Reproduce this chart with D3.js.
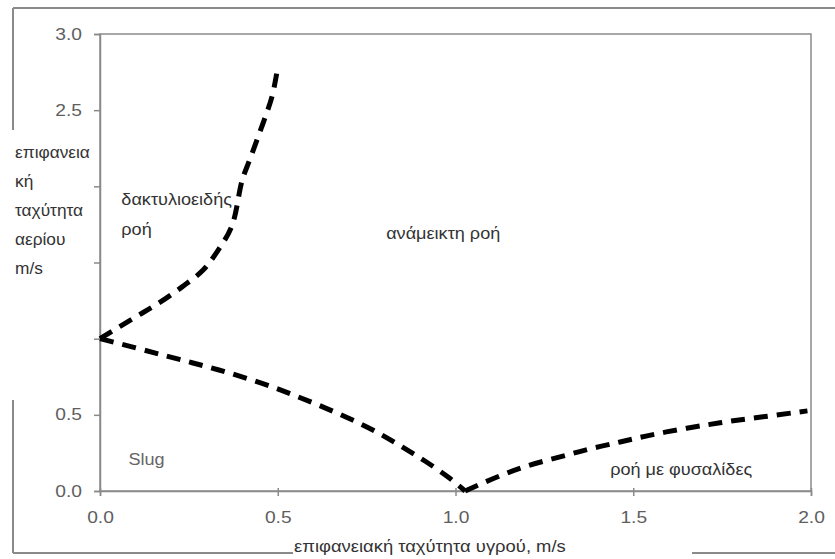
<!DOCTYPE html>
<html>
<head>
<meta charset="utf-8">
<script src="https://cdn.jsdelivr.net/npm/d3@7"></script>
<style>
  body { margin: 0; background: #fff; }
  svg { display: block; font-family: "Liberation Sans", Arial, sans-serif; }
  .axis path, .axis line { stroke: #8a8a8a; stroke-width: 1.5; }
  .axis text { fill: #5e5e5e; font-size: 16px; }
  .region { font-size: 16px; }
  .boundary { fill: none; stroke: #000; stroke-width: 5; stroke-dasharray: 14 9; }
</style>
</head>
<body>
<svg id="chart" width="835" height="559"></svg>
<script>
// liquid superficial velocity (x) vs gas superficial velocity (y)
const annularX = [0, 0.098, 0.163, 0.231, 0.29, 0.332, 0.371, 0.4, 0.422, 0.444, 0.464, 0.484, 0.5];
const annularY = [1.0, 1.14, 1.23, 1.34, 1.45, 1.58, 1.74, 2.04, 2.18, 2.32, 2.45, 2.59, 2.78];

const slugX = [0, 0.098, 0.183, 0.259, 0.332, 0.408, 0.484, 0.557, 0.633, 0.709, 0.782, 0.85, 0.914, 0.979, 1.027];
const slugY = [1.0, 0.941, 0.888, 0.842, 0.796, 0.743, 0.684, 0.618, 0.546, 0.467, 0.382, 0.289, 0.197, 0.092, 0];

const bubbleX = [1.027, 1.117, 1.201, 1.294, 1.378, 1.463, 1.539, 1.623, 1.707, 1.781, 1.865, 1.949, 1.99];
const bubbleY = [0, 0.092, 0.164, 0.224, 0.276, 0.322, 0.362, 0.401, 0.434, 0.461, 0.487, 0.513, 0.526];

const xTicks = [0, 0.5, 1, 1.5, 2];
const xTickLabels = ["0.0", "0.5", "1.0", "1.5", "2.0"];
const yTicks = [0, 0.5, 1, 1.5, 2, 2.5, 3];
const yTickLabels = ["0.0", "0.5", "", "", "", "2.5", "3.0"];

const yTitleLines = ["επιφανεια", "κή", "ταχύτητα", "αερίου", "m/s"];
const xTitle = "επιφανειακή ταχύτητα υγρού, m/s";

const regionNames = ["δακτυλιοειδής", "ροή", "ανάμεικτη ροή", "Slug", "ροή με φυσαλίδες"];
const regionX = [0.06, 0.06, 0.805, 0.08, 1.435];
const regionY = [1.915, 1.72, 1.69, 0.21, 0.14];

const svg = d3.select("#chart");
const margin = { top: 34, right: 24, bottom: 68, left: 100 };
const width = +svg.attr("width");
const height = +svg.attr("height");
const innerWidth = width - margin.left - margin.right;
const innerHeight = height - margin.top - margin.bottom;

// the picture's lettering is a little wider than Arial
const stretch = (sel, k) => sel.each(function () {
  const w = this.getComputedTextLength();
  if (w > 0) d3.select(this).attr("textLength", w * k).attr("lengthAdjust", "spacingAndGlyphs");
});

const x = d3.scaleLinear().domain([0, 2]).range([0, innerWidth]);
const y = d3.scaleLinear().domain([0, 3]).range([innerHeight, 0]);

// outer frame (broken where the axis titles sit)
const frame = svg.append("g").attr("stroke", "#8a8a8a").attr("stroke-width", 2);
[[13, 8, 835, 8], [13, 8, 13, 130], [13, 400, 13, 553], [13, 553, 293, 553], [692, 553, 835, 553]]
  .forEach(([x1, y1, x2, y2]) => {
    frame.append("line").attr("x1", x1).attr("y1", y1).attr("x2", x2).attr("y2", y2);
  });

const g = svg.append("g").attr("transform", `translate(${margin.left},${margin.top})`);

g.append("rect")
  .attr("width", innerWidth)
  .attr("height", innerHeight)
  .attr("fill", "none")
  .attr("stroke", "#8a8a8a")
  .attr("stroke-width", 1.5);

const xAxisG = g.append("g")
  .attr("class", "axis")
  .attr("transform", `translate(0,${innerHeight})`)
  .call(d3.axisBottom(x).tickValues(xTicks).tickSize(5).tickPadding(16)
    .tickFormat((d, i) => xTickLabels[i]));
xAxisG.selectAll(".tick line").attr("y1", -3);
stretch(xAxisG.selectAll(".tick text"), 1.2);

const yAxisG = g.append("g")
  .attr("class", "axis")
  .call(d3.axisLeft(y).tickValues(yTicks).tickSize(6).tickPadding(12)
    .tickFormat((d, i) => yTickLabels[i]));
yAxisG.selectAll(".tick text").filter(function () { return this.textContent === ""; }).remove();
stretch(yAxisG.selectAll(".tick text"), 1.2);

// boundaries between flow regimes
const line = d3.line()
  .x(d => x(d[0]))
  .y(d => y(d[1]))
  .curve(d3.curveCatmullRom);

[[annularX, annularY], [slugX, slugY], [bubbleX, bubbleY]].forEach(([xs, ys]) => {
  g.append("path")
    .datum(xs.map((v, i) => [v, ys[i]]))
    .attr("class", "boundary")
    .attr("d", line);
});

const regions = g.selectAll(".region")
  .data(regionNames)
  .enter()
  .append("text")
  .attr("class", "region")
  .attr("x", (d, i) => x(regionX[i]))
  .attr("y", (d, i) => y(regionY[i]))
  .attr("dy", "0.35em")
  .attr("fill", d => (d === "Slug" ? "#666" : "#333"))
  .text(d => d);
stretch(regions, 1.13);

const yTitle = svg.append("g")
  .selectAll("text")
  .data(yTitleLines)
  .enter()
  .append("text")
  .attr("x", 15)
  .attr("y", (d, i) => 152 + i * 29)
  .attr("dy", "0.35em")
  .attr("fill", "#333")
  .attr("font-size", 16)
  .text(d => d);
stretch(yTitle, 1.08);

svg.append("text")
  .attr("x", 294)
  .attr("y", 552)
  .attr("fill", "#333")
  .attr("font-size", 16)
  .text(xTitle)
  .call(stretch, 1.15);
</script>
</body>
</html>
